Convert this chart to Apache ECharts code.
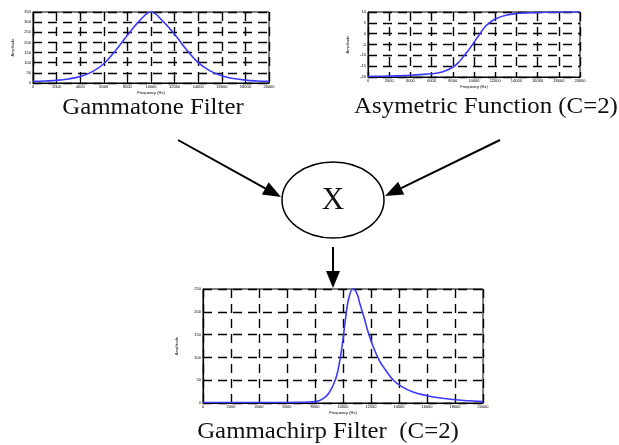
<!DOCTYPE html>
<html>
<head>
<meta charset="utf-8">
<script src="https://cdn.jsdelivr.net/npm/echarts@6/dist/echarts.min.js"></script>
<style>
  html, body { margin: 0; padding: 0; background: #fff; }
  #main { width: 619px; height: 445px; }
</style>
</head>
<body>
<div id="main"></div>
<script>
// x ticks shared by the three small plots
var freqTicks = [0, 2000, 4000, 6000, 8000, 10000, 12000, 14000, 16000, 18000, 20000];

// gammatone filter (top left)
var gtFreq = [0, 1000, 2000, 3000, 4000, 5000, 6000, 7000, 8000, 9000, 10000, 11000, 12000, 13000, 14000, 15000, 16000, 17000, 18000, 19000, 20000];
var gtAmp  = [8, 10, 13, 20, 32, 55, 95, 160, 235, 305, 350, 305, 240, 165, 100, 60, 36, 22, 14, 10, 8];

// asymetric function, C=2 (top right)
var asFreq = [0, 1000, 2000, 3000, 4000, 5000, 6000, 7000, 8000, 8500, 9000, 9500, 10000, 10500, 11000, 11500, 12000, 13000, 14000, 15000, 16000, 17000, 18000, 19000, 20000];
var asAmp  = [-19.8, -19.7, -19.6, -19.4, -19.2, -18.9, -18.5, -17.7, -15.5, -13.5, -10.5, -7.5, -4, -0.5, 3, 5.2, 6.8, 8.5, 9.3, 9.6, 9.8, 9.9, 9.95, 10, 10];

// gammachirp filter, C=2 (bottom)
var gcFreq = [0, 2000, 4000, 6000, 7000, 7500, 8000, 8500, 9000, 9500, 9800, 10000, 10200, 10400, 10700, 11000, 11200, 11500, 11800, 12200, 12600, 13000, 13600, 14200, 15000, 16000, 16700, 18000, 19000, 20000];
var gcAmp  = [1, 1, 1, 1, 1.5, 2, 3, 8, 22, 55, 98, 140, 190, 228, 250, 240, 218, 188, 155, 120, 93, 74, 50, 36, 24, 16, 12, 7, 5, 3];

var chart = echarts.init(document.getElementById('main'));

function pairs(xs, ys) {
    var out = [];
    for (var i = 0; i < xs.length; i++) out.push([xs[i], ys[i]]);
    return out;
}

var dash = [9, 6];
var tiny = { fontSize: 4, color: '#000', margin: 2, fontFamily: 'Liberation Sans',
             formatter: function (v) { return String(v); } };

function xAx(idx) {
    return {
        gridIndex: idx, type: 'value', min: freqTicks[0], max: freqTicks[freqTicks.length - 1],
        interval: freqTicks[1] - freqTicks[0],
        name: 'Frequency (Hz)', nameLocation: 'middle', nameGap: 8,
        nameTextStyle: { fontSize: 4, color: '#000' },
        axisLine: { show: true, onZero: false, lineStyle: { color: '#000', width: 1.2 } },
        axisTick: { show: true, inside: true, length: 3, lineStyle: { color: '#000' } },
        axisLabel: tiny,
        splitLine: { show: true, lineStyle: { color: '#000', type: dash, width: 1.4 } }
    };
}
function yAx(idx, min, max, step, gap) {
    return {
        gridIndex: idx, type: 'value', min: min, max: max, interval: step,
        name: 'Amplitude', nameLocation: 'middle', nameGap: gap, nameRotate: 90,
        nameTextStyle: { fontSize: 4, color: '#000' },
        axisLine: { show: true, onZero: false, lineStyle: { color: '#000', width: 1.2 } },
        axisTick: { show: true, inside: true, length: 3, lineStyle: { color: '#000' } },
        axisLabel: tiny,
        splitLine: { show: true, lineStyle: { color: '#000', type: dash, width: 1.4 } }
    };
}
function curve(idx, xs, ys) {
    return {
        type: 'line', xAxisIndex: idx, yAxisIndex: idx, data: pairs(xs, ys),
        showSymbol: false, smooth: 0.4, silent: true,
        lineStyle: { color: '#3a3aff', width: 1.6 }
    };
}

// arrow: shaft + triangular head drawn as graphic elements
function arrow(x1, y1, x2, y2, len, w) {
    var dx = x2 - x1, dy = y2 - y1;
    var d = Math.sqrt(dx * dx + dy * dy);
    var ux = dx / d, uy = dy / d;
    var bx = x2 - ux * len, by = y2 - uy * len;
    var px = -uy * w / 2, py = ux * w / 2;
    return [
        { type: 'line', shape: { x1: x1, y1: y1, x2: bx, y2: by }, style: { stroke: '#000', lineWidth: 2 } },
        { type: 'polygon', shape: { points: [[x2, y2], [bx + px, by + py], [bx - px, by - py]] }, style: { fill: '#000' } }
    ];
}

function label(txt, x, y, size) {
    return {
        type: 'text', x: x, y: y, scaleX: 1.08,
        style: { text: txt, x: 0, y: 0, align: 'center', verticalAlign: 'middle',
                 font: size + 'px "Liberation Serif"', fill: '#111' }
    };
}

var graphics = []
    .concat(arrow(178, 140, 281, 197, 18, 14))
    .concat(arrow(500, 140, 385, 196, 18, 14))
    .concat(arrow(333, 247, 333, 288, 17, 14))
    .concat([
        { type: 'ellipse', shape: { cx: 333, cy: 200, rx: 51, ry: 38 }, style: { fill: '#fff', stroke: '#000', lineWidth: 1.5 } },
        { type: 'text', x: 333, y: 201, style: { text: 'X', x: 0, y: 0, align: 'center', verticalAlign: 'middle', font: '31px "Liberation Serif"', fill: '#111' } },
        label('Gammatone Filter', 153, 108, 23),
        label('Asymetric Function (C=2)', 486, 107, 23),
        label('Gammachirp Filter  (C=2)', 328, 432, 23)
    ]);

chart.setOption({
    backgroundColor: '#fff',
    animation: false,
    grid: [
        { left: 33, top: 12, width: 236, height: 71, show: true, borderColor: '#000', borderWidth: 1 },
        { left: 368, top: 12, width: 212, height: 65, show: true, borderColor: '#000', borderWidth: 1 },
        { left: 203, top: 289, width: 280, height: 114, show: true, borderColor: '#000', borderWidth: 1 }
    ],
    xAxis: [xAx(0), xAx(1), xAx(2)],
    yAxis: [yAx(0, 0, 350, 50, 18), yAx(1, -20, 10, 5, 18), yAx(2, 0, 250, 50, 24)],
    series: [curve(0, gtFreq, gtAmp), curve(1, asFreq, asAmp), curve(2, gcFreq, gcAmp)],
    graphic: graphics
});
</script>
</body>
</html>
